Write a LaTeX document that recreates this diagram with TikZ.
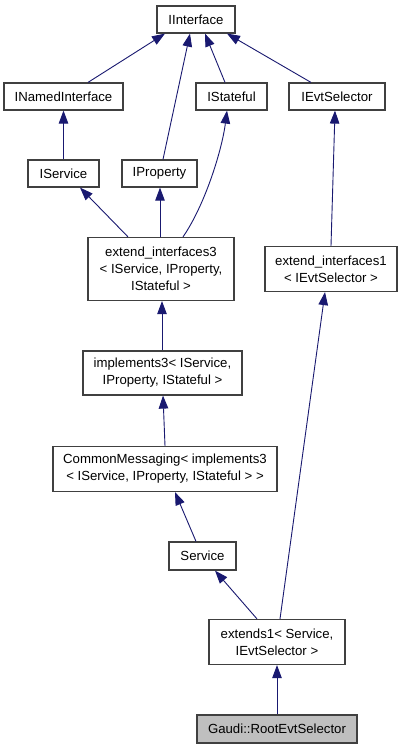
\documentclass[tikz,border=0pt]{standalone}
\usepackage{fontspec}
\setmainfont{Liberation Sans}
\usetikzlibrary{arrows.meta}
\definecolor{edgecol}{HTML}{191970}
\definecolor{boxcol}{HTML}{404040}
\definecolor{hlcol}{HTML}{BFBFBF}
\begin{document}
\begin{tikzpicture}[x=1pt,y=-1pt,
  cls/.style={draw=boxcol,line width=1.2pt,fill=white,rectangle,inner sep=0pt,
    align=center,font=\fontsize{13.2}{17}\selectfont},
  inh/.style={draw=edgecol,line width=0.9pt,-{Triangle[length=13pt,width=9.5pt,fill=edgecol]}}]
\useasboundingbox (0,0) rectangle (401,749);
\fill[white] (0,0) rectangle (401,749);
\node[cls,minimum width=78pt,minimum height=27pt] (ii) at (196,19.5) {IInterface};
\node[cls,minimum width=119pt,minimum height=27pt] (ini) at (63.5,96.5) {INamedInterface};
\node[cls,minimum width=71pt,minimum height=27pt] (ist) at (231.5,96.5) {IStateful};
\node[cls,minimum width=96pt,minimum height=27pt] (ies) at (337,96.5) {IEvtSelector};
\node[cls,minimum width=71pt,minimum height=27pt] (isv) at (63.5,173.5) {IService};
\node[cls,minimum width=75pt,minimum height=27pt] (ipr) at (159.5,173.5) {IProperty};
\node[cls,minimum width=146pt,minimum height=63pt] (ext3) at (161,269) {extend\_interfaces3\\{}< IService, IProperty,\\IStateful >};
\node[cls,minimum width=132pt,minimum height=45pt] (ext1) at (331,269) {extend\_interfaces1\\{}< IEvtSelector >};
\node[cls,minimum width=159pt,minimum height=44pt] (imp3) at (162.5,373) {implements3< IService,\\IProperty, IStateful >};
\node[cls,minimum width=224pt,minimum height=45pt] (cm) at (165,469) {CommonMessaging< implements3\\{}< IService, IProperty, IStateful > >};
\node[cls,minimum width=67pt,minimum height=28pt] (svc) at (202.5,556) {Service};
\node[cls,minimum width=136pt,minimum height=45pt] (ex1) at (277,642) {extends1< Service,\\IEvtSelector >};
\node[cls,fill=hlcol,minimum width=160pt,minimum height=28pt] (gau) at (277,729) {Gaudi::RootEvtSelector};
\draw[inh] ([xshift=24.5pt]ini.north) -- ([xshift=-31pt]ii.south);
\draw[inh] ([xshift=3.5pt]ipr.north) -- ([xshift=-6pt]ii.south);
\draw[inh] ([xshift=-6.5pt]ist.north) -- ([xshift=9pt]ii.south);
\draw[inh] ([xshift=-26pt]ies.north) -- ([xshift=31pt]ii.south);
\draw[inh] (isv.north) -- (ini.south);
\draw[inh] ([xshift=-33pt]ext3.north) -- ([xshift=16.5pt]isv.south);
\draw[inh] ([xshift=-1pt]ext3.north) -- ([xshift=0.5pt]ipr.south);
\draw[inh] ([xshift=22pt]ext3.north) .. controls (205,205) and (222,150) .. ([xshift=-4.5pt]ist.south);
\draw[inh] (ext1.north) -- ([xshift=-2pt]ies.south);
\draw[inh] ([xshift=-0.5pt]imp3.north) -- ([xshift=1pt]ext3.south);
\draw[inh] (cm.north) -- ([xshift=0.5pt]imp3.south);
\draw[inh] ([xshift=-6.5pt]svc.north) -- ([xshift=10pt]cm.south);
\draw[inh] ([xshift=-20pt]ex1.north) -- ([xshift=12.5pt]svc.south);
\draw[inh] ([xshift=3pt]ex1.north) -- ([xshift=-6pt]ext1.south);
\draw[inh] (gau.north) -- (ex1.south);
\end{tikzpicture}
\end{document}
